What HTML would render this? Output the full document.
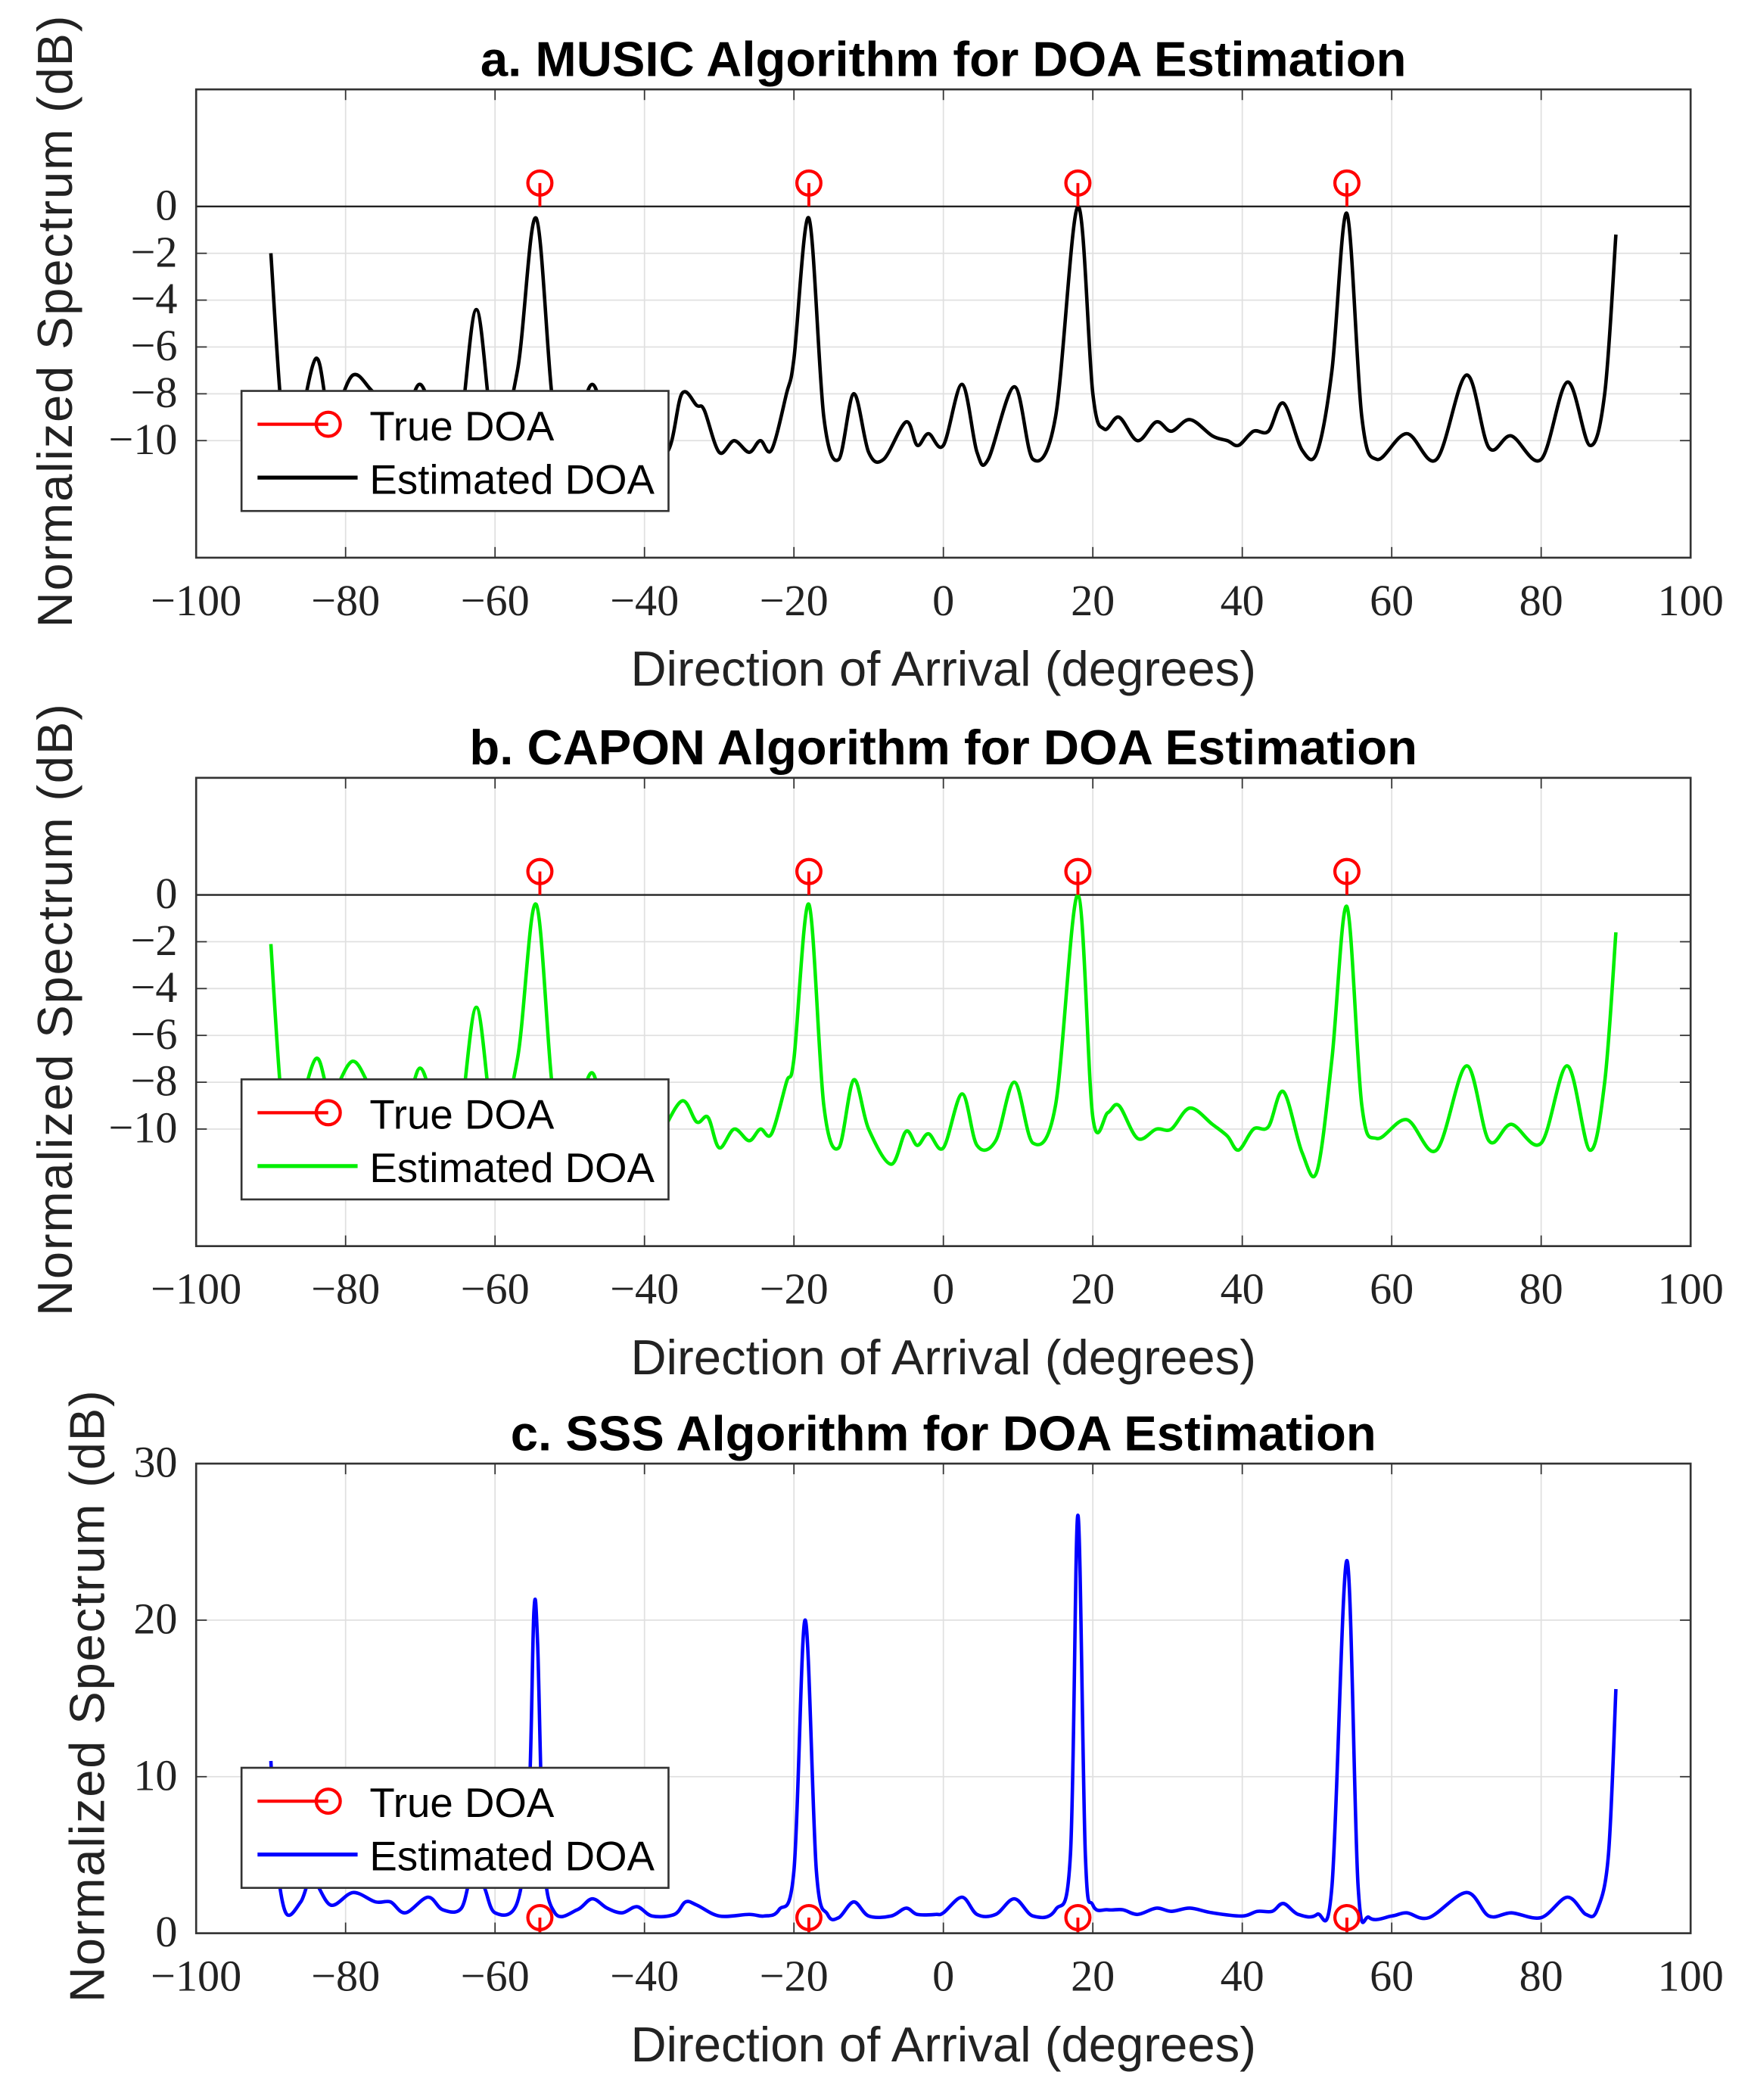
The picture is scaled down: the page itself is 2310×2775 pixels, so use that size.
<!DOCTYPE html>
<html><head><meta charset="utf-8"><style>
html,body{margin:0;padding:0;background:#fff}
svg{display:block}
.tk{font-family:"Liberation Serif",serif;font-size:33px;fill:#222}
.ttl{font-family:"Liberation Sans",sans-serif;font-weight:bold;font-size:37px;fill:#000}
.lab{font-family:"Liberation Sans",sans-serif;font-size:37px;fill:#222}
.ylab{font-family:"Liberation Sans",sans-serif;font-size:37px;fill:#222;letter-spacing:1px}
.leg{font-family:"Liberation Sans",sans-serif;font-size:31px;fill:#000}
</style></head><body>
<svg id="s" width="2310" height="2775" viewBox="0 0 1310 1574" preserveAspectRatio="none" xmlns="http://www.w3.org/2000/svg"></svg>
<script>
const S=document.getElementById('s');let h='';
const L=147,R=1267;const X=d=>707+d*5.6;
function cr(pts,xf,yf){let p=pts.map(a=>[xf(a[0]),yf(a[1])]);let s='M'+p[0][0].toFixed(1)+','+p[0][1].toFixed(1);
for(let i=0;i<p.length-1;i++){const p0=p[Math.max(0,i-1)],p1=p[i],p2=p[i+1],p3=p[Math.min(p.length-1,i+2)];
const c1=[p1[0]+(p2[0]-p0[0])/6,p1[1]+(p2[1]-p0[1])/6],c2=[p2[0]-(p3[0]-p1[0])/6,p2[1]-(p3[1]-p1[1])/6];
s+=`C${c1[0].toFixed(1)},${c1[1].toFixed(1)} ${c2[0].toFixed(1)},${c2[1].toFixed(1)} ${p2[0].toFixed(1)},${p2[1].toFixed(1)}`;}return s;}
const music=[[-90,-2],[-88.5,-9],[-87,-10.5],[-84,-6.5],[-82,-9],[-79,-7.2],[-76,-8],[-72,-8.5],[-70,-7.6],[-68,-9],[-65,-10],[-62.5,-4.4],[-60,-10],[-57,-7],[-54.5,-0.5],[-52,-9],[-49,-9],[-47,-7.6],[-45,-9],[-41,-10],[-37,-10.5],[-35,-8],[-33,-8.5],[-32,-8.7],[-30,-10.5],[-28,-10],[-26,-10.5],[-24.5,-10],[-23,-10.4],[-21,-8],[-20,-6.5],[-18,-0.5],[-16,-9],[-14,-10.8],[-12,-8],[-10,-10.5],[-8,-10.8],[-5,-9.2],[-3.5,-10.2],[-2,-9.7],[0,-10.2],[2.5,-7.6],[4.5,-10.5],[6,-10.8],[9.5,-7.7],[12,-10.8],[15,-9],[18,0],[20,-8],[21.5,-9.5],[23.5,-9],[26,-10],[28.5,-9.2],[30.5,-9.6],[33,-9.1],[36,-9.8],[38,-10],[39.5,-10.2],[41.5,-9.6],[43.5,-9.6],[45.5,-8.4],[48,-10.4],[50,-10.5],[52,-7],[54,-0.3],[56,-9],[58,-10.8],[62,-9.7],[66,-10.8],[70,-7.2],[73,-10.3],[76,-9.8],[80,-10.8],[83.5,-7.5],[86.5,-10.2],[88.5,-8],[90,-1.2]];
const capon=[[-90,-2.1],[-88.5,-9],[-87,-10],[-84,-7],[-82,-8.5],[-79,-7.1],[-76,-8.5],[-72,-8.8],[-70,-7.4],[-68,-9],[-65,-10],[-62.5,-4.8],[-60,-10],[-57,-7],[-54.5,-0.4],[-52,-9],[-49,-9],[-47,-7.6],[-45,-9.5],[-40,-10.8],[-38,-10.3],[-35,-8.8],[-33,-9.7],[-31.5,-9.5],[-30,-10.8],[-28,-10],[-26,-10.5],[-24.5,-10],[-23,-10.2],[-21,-8],[-20,-7],[-18,-0.4],[-16,-9],[-14,-10.8],[-12,-7.9],[-10,-10],[-7,-11.5],[-5,-10.1],[-3.5,-10.7],[-2,-10.2],[0,-10.8],[2.5,-8.5],[4.5,-10.7],[7,-10.5],[9.5,-8],[12,-10.6],[15,-9],[18,0],[20,-9.5],[22,-9.3],[23.5,-9],[26,-10.4],[28.5,-10],[30.5,-10],[33,-9.1],[36,-9.8],[38,-10.3],[39.5,-10.9],[41.5,-10],[43.5,-9.9],[45.5,-8.4],[48,-11],[50,-11.8],[52,-7],[54,-0.5],[56,-9],[58,-10.4],[62,-9.6],[66,-10.9],[70,-7.3],[73,-10.5],[76,-9.8],[80,-10.6],[83.5,-7.3],[86.5,-10.9],[88.5,-8],[90,-1.6]];
const sss=[[-90,11],[-89.3,5],[-88,1.3],[-86,2],[-84.5,3.5],[-82,1.8],[-79,2.6],[-76,2],[-74,2],[-72,1.3],[-69,2.3],[-67,1.5],[-64.5,1.6],[-63,4],[-61.5,3],[-60,1.3],[-57,2],[-55.5,8],[-54.8,20.5],[-54.3,18.5],[-53.5,5],[-52,1.3],[-49,1.5],[-47,2.2],[-45,1.6],[-43,1.3],[-41,1.7],[-39,1.1],[-36,1.2],[-34.5,2],[-33,1.8],[-30,1.1],[-26,1.2],[-24,1.1],[-22,1.5],[-20,4],[-18.5,20],[-17,4],[-15.5,1.2],[-14,1],[-12,2],[-10,1.1],[-7,1.1],[-5,1.6],[-3.5,1.2],[-1,1.2],[0,1.3],[2.5,2.3],[4.5,1.2],[7,1.2],[9.5,2.2],[12,1.1],[15,1.5],[17,5],[18,26.7],[19,5],[20,1.8],[22,1.5],[24,1.5],[26,1.2],[28.5,1.6],[30.5,1.4],[33,1.6],[36,1.3],[40,1.1],[42,1.4],[44,1.4],[45.5,1.9],[47.5,1.2],[50,1.2],[52,3],[54,23.8],[55.5,3],[57,1],[60,1.1],[62,1.3],[65,1],[70,2.6],[73,1.1],[76,1.3],[80,1],[83.5,2.3],[86,1.2],[87.5,1.5],[89,5],[90,15.6]];
function panel(top,bot,ymin,ymax,yt,data,col,title,legY,stemUp,ylx){
 const Y=v=>bot-(v-ymin)/(ymax-ymin)*(bot-top);
 h+=`<rect x="${L}" y="${top}" width="${R-L}" height="${bot-top}" fill="#fff"/>`;
 for(let d=-80;d<=80;d+=20)h+=`<line x1="${X(d)}" y1="${top}" x2="${X(d)}" y2="${bot}" stroke="#e0e0e0" stroke-width="1"/>`;
 yt.forEach(v=>h+=`<line x1="${L}" y1="${Y(v)}" x2="${R}" y2="${Y(v)}" stroke="#e0e0e0" stroke-width="1"/>`);
 for(let d=-80;d<=80;d+=20)h+=`<line x1="${X(d)}" y1="${bot}" x2="${X(d)}" y2="${bot-8}" stroke="#333"/><line x1="${X(d)}" y1="${top}" x2="${X(d)}" y2="${top+8}" stroke="#333"/>`;
 yt.forEach(v=>h+=`<line x1="${L}" y1="${Y(v)}" x2="${L+8}" y2="${Y(v)}" stroke="#333"/><line x1="${R}" y1="${Y(v)}" x2="${R-8}" y2="${Y(v)}" stroke="#333"/>`);
 if(!stemUp)h+=`<line x1="${L}" y1="${Y(0)}" x2="${R}" y2="${Y(0)}" stroke="#222" stroke-width="1.3"/>`;
 h+=`<path d="${cr(data,X,Y)}" fill="none" stroke="${col}" stroke-width="2.6" stroke-linejoin="round"/>`;
 [-54,-18,18,54].forEach(d=>{h+=`<line x1="${X(d)}" y1="${Y(0)}" x2="${X(d)}" y2="${Y(1)}" stroke="#f00" stroke-width="2.2"/><circle cx="${X(d)}" cy="${Y(1)}" r="9" fill="none" stroke="#f00" stroke-width="2.4"/>`;});
 h+=`<rect x="${L}" y="${top}" width="${R-L}" height="${bot-top}" fill="none" stroke="#333" stroke-width="1.5"/>`;
 for(let d=-100;d<=100;d+=20)h+=`<text class="tk" x="${X(d)}" y="${bot+43}" text-anchor="middle">${d<0?'\u2212'+(-d):d}</text>`;
 yt.forEach(v=>h+=`<text class="tk" x="133" y="${Y(v)+10}" text-anchor="end">${v<0?'\u2212'+(-v):v}</text>`);
 h+=`<text class="ttl" x="707" y="${top-10}" text-anchor="middle">${title}</text>`;
 h+=`<text class="lab" x="707" y="${bot+96}" text-anchor="middle">Direction of Arrival (degrees)</text>`;
 h+=`<text class="ylab" transform="translate(${ylx},${(top+bot)/2-2}) rotate(-90)" text-anchor="middle">Normalized Spectrum (dB)</text>`;
 h+=`<rect x="181" y="${legY}" width="320" height="90" fill="#fff" stroke="#333" stroke-width="1.5"/>`;
 h+=`<line x1="193" y1="${legY+25}" x2="246" y2="${legY+25}" stroke="#f00" stroke-width="2.4"/><circle cx="246" cy="${legY+25}" r="9" fill="none" stroke="#f00" stroke-width="2.4"/>`;
 h+=`<text class="leg" x="277" y="${legY+37}">True DOA</text>`;
 h+=`<line x1="193" y1="${legY+65}" x2="268" y2="${legY+65}" stroke="${col}" stroke-width="3"/>`;
 h+=`<text class="leg" x="277" y="${legY+77}">Estimated DOA</text>`;
}
panel(67,418,-15,5,[-10,-8,-6,-4,-2,0],music,'#000','a. MUSIC Algorithm for DOA Estimation',293,false,54);
panel(583,934,-15,5,[-10,-8,-6,-4,-2,0],capon,'#00ee00','b. CAPON Algorithm for DOA Estimation',809,false,54);
panel(1097,1449,0,30,[0,10,20,30],sss,'#0000ff','c. SSS Algorithm for DOA Estimation',1325,true,78);
S.innerHTML=h;
</script>
</body></html>
